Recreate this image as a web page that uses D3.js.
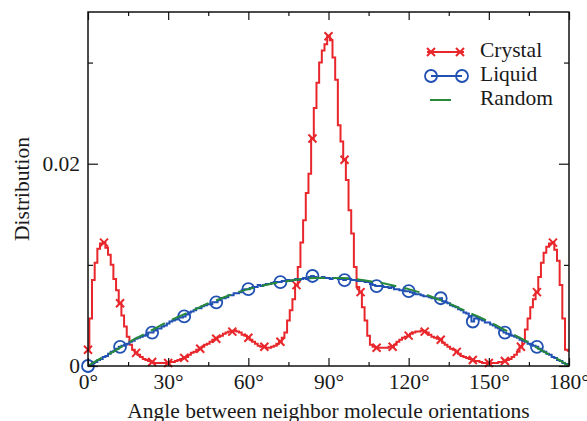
<!DOCTYPE html>
<html>
<head>
<meta charset="utf-8">
<script src="https://cdn.jsdelivr.net/npm/d3@7"></script>
<style>
  body { margin: 0; background: #fff; }
  svg text { font-family: "Liberation Serif", "Times New Roman", serif; fill: #1a1a1a; }
</style>
</head>
<body>
<div id="chart"></div>
<script>
// angle (degrees) of every histogram bin centre: 0..180
var angles = d3.range(0, 181);

// crystal distribution, one value per degree
var crystal = [
  0.0016,0.0047,0.0085,0.0102,0.0116,0.0121,0.0122,0.0117,0.0110,0.0100,
  0.0086,0.0075,0.0062,0.0050,0.0039,0.0029,0.0021,0.0016,0.0013,0.0011,
  0.0009,0.0007,0.0006,0.0005,0.0004,0.0003,0.0003,0.0003,0.0003,0.0003,
  0.0003,0.0004,0.0004,0.0005,0.0006,0.0007,0.0008,0.0009,0.0011,0.0013,
  0.0014,0.0016,0.0017,0.0019,0.0021,0.0022,0.0024,0.0026,0.0027,0.0029,
  0.0030,0.0032,0.0033,0.0034,0.0034,0.0035,0.0034,0.0033,0.0031,0.0030,
  0.0028,0.0026,0.0024,0.0022,0.0020,0.0019,0.0019,0.0018,0.0018,0.0019,
  0.0020,0.0022,0.0024,0.0028,0.0033,0.0045,0.0055,0.0066,0.0080,0.0098,
  0.0122,0.0144,0.0171,0.0190,0.0225,0.0255,0.0280,0.0300,0.0312,0.0318,
  0.0326,0.0322,0.0305,0.0283,0.0238,0.0222,0.0204,0.0184,0.0154,0.0131,
  0.0098,0.0078,0.0073,0.0058,0.0045,0.0030,0.0021,0.0019,0.0018,0.0018,
  0.0018,0.0018,0.0018,0.0019,0.0019,0.0021,0.0024,0.0026,0.0028,0.0029,
  0.0030,0.0032,0.0033,0.0034,0.0034,0.0035,0.0034,0.0033,0.0031,0.0029,
  0.0028,0.0027,0.0026,0.0023,0.0021,0.0019,0.0017,0.0016,0.0014,0.0012,
  0.0010,0.0009,0.0008,0.0007,0.0006,0.0005,0.0005,0.0004,0.0003,0.0003,
  0.0003,0.0003,0.0003,0.0003,0.0004,0.0004,0.0005,0.0006,0.0007,0.0009,
  0.0011,0.0014,0.0019,0.0025,0.0036,0.0047,0.0058,0.0066,0.0073,0.0088,
  0.0102,0.0112,0.0118,0.0121,0.0122,0.0115,0.0104,0.0080,0.0047,0.0016,
  0.0015
];

// liquid distribution, one value per degree
var liquid = [
  0.0000,0.0001,0.0003,0.0004,0.0006,0.0007,0.0009,0.0010,0.0012,0.0014,
  0.0015,0.0017,0.0019,0.0020,0.0021,0.0022,0.0024,0.0025,0.0027,0.0028,
  0.0029,0.0030,0.0031,0.0033,0.0033,0.0035,0.0037,0.0037,0.0039,0.0040,
  0.0042,0.0044,0.0045,0.0046,0.0048,0.0048,0.0049,0.0051,0.0053,0.0054,
  0.0055,0.0057,0.0057,0.0059,0.0060,0.0061,0.0061,0.0063,0.0063,0.0065,
  0.0067,0.0067,0.0068,0.0070,0.0070,0.0072,0.0072,0.0073,0.0075,0.0076,
  0.0076,0.0077,0.0078,0.0078,0.0080,0.0079,0.0080,0.0081,0.0081,0.0082,
  0.0083,0.0083,0.0083,0.0084,0.0084,0.0085,0.0084,0.0085,0.0086,0.0085,
  0.0086,0.0087,0.0086,0.0088,0.0089,0.0088,0.0087,0.0087,0.0088,0.0087,
  0.0087,0.0086,0.0087,0.0087,0.0086,0.0086,0.0085,0.0086,0.0086,0.0085,
  0.0085,0.0084,0.0084,0.0084,0.0083,0.0083,0.0081,0.0080,0.0079,0.0079,
  0.0079,0.0078,0.0078,0.0077,0.0078,0.0076,0.0076,0.0075,0.0075,0.0074,
  0.0074,0.0073,0.0072,0.0071,0.0071,0.0070,0.0069,0.0069,0.0068,0.0067,
  0.0067,0.0066,0.0067,0.0064,0.0063,0.0062,0.0060,0.0059,0.0058,0.0056,
  0.0055,0.0053,0.0052,0.0049,0.0044,0.0047,0.0048,0.0046,0.0045,0.0043,
  0.0043,0.0041,0.0040,0.0038,0.0037,0.0035,0.0033,0.0032,0.0031,0.0030,
  0.0029,0.0028,0.0026,0.0025,0.0024,0.0022,0.0021,0.0020,0.0019,0.0017,
  0.0015,0.0014,0.0012,0.0011,0.0009,0.0008,0.0006,0.0005,0.0003,0.0002,
  0.0000
];

// random orientation curve, sampled every 5 degrees
var randomAngles = d3.range(0, 181, 5);
var random = [
  0.0000,0.0008,0.0015,0.0023,0.0030,0.0037,0.0044,0.0050,0.0056,0.0062,
  0.0067,0.0072,0.0076,0.0079,0.0082,0.0084,0.0086,0.0087,0.0087,0.0087,
  0.0086,0.0084,0.0082,0.0079,0.0076,0.0072,0.0067,0.0062,0.0056,0.0050,
  0.0044,0.0037,0.0030,0.0023,0.0015,0.0008,0.0000
];

var xMajor = [0, 30, 60, 90, 120, 150, 180],
    xMinor = [15, 45, 75, 105, 135, 165],
    yMajor = [0, 0.02],
    yMinor = [0.01, 0.03];

var legendNames = ["Crystal", "Liquid", "Random"];

var red = "#e8262b", blue = "#2151b2", green = "#27893a";
var fontSize = "21.5px";

var width = 587, height = 421,
    margin = {top: 12, right: 18, bottom: 55, left: 88};

var svg = d3.select("#chart").append("svg")
  .attr("width", width)
  .attr("height", height);

var x = d3.scaleLinear().domain([0, 180]).range([margin.left, width - margin.right]);
var y = d3.scaleLinear().domain([0, 0.035]).range([height - margin.bottom, margin.top]);

var crystalData = angles.map(function(a, i){ return {a: a, v: crystal[i]}; });
var liquidData = angles.map(function(a, i){ return {a: a, v: liquid[i]}; });
var randomData = randomAngles.map(function(a, i){ return {a: a, v: random[i]}; });

var step = d3.line()
  .curve(d3.curveStep)
  .x(function(d){ return x(d.a); })
  .y(function(d){ return y(d.v); });

var smooth = d3.line()
  .curve(d3.curveMonotoneX)
  .x(function(d){ return x(d.a); })
  .y(function(d){ return y(d.v); });

var xMark = "M-4,-4L4,4M-4,4L4,-4";

// crystal
svg.append("path")
  .datum(crystalData)
  .attr("d", step)
  .style("fill", "none")
  .style("stroke", red)
  .style("stroke-width", 2);

svg.selectAll(".xm")
  .data(crystalData.filter(function(d){ return d.a % 6 === 0 && d.a < 180; }))
  .enter().append("path")
  .attr("class", "xm")
  .attr("d", xMark)
  .attr("transform", function(d){ return "translate(" + x(d.a) + "," + y(d.v) + ")"; })
  .style("fill", "none")
  .style("stroke", red)
  .style("stroke-width", 2);

// liquid
svg.append("path")
  .datum(liquidData)
  .attr("d", step)
  .style("fill", "none")
  .style("stroke", blue)
  .style("stroke-width", 2);

svg.selectAll(".cm")
  .data(liquidData.filter(function(d){ return d.a % 12 === 0 && d.a < 180; }))
  .enter().append("circle")
  .attr("class", "cm")
  .attr("cx", function(d){ return x(d.a); })
  .attr("cy", function(d){ return y(d.v); })
  .attr("r", 6)
  .style("fill", "none")
  .style("stroke", blue)
  .style("stroke-width", 1.8);

// random
svg.append("path")
  .datum(randomData)
  .attr("d", smooth)
  .style("fill", "none")
  .style("stroke", green)
  .style("stroke-width", 2)
  .style("stroke-dasharray", "16,8");

// axes: ticks pointing inward on all four sides
function styleAxis(g) {
  g.select(".domain").remove();
  g.selectAll("line").style("stroke", "#111").style("stroke-width", 1.2);
  g.selectAll("text").style("font-size", fontSize).style("fill", "#1a1a1a")
    .style("font-family", "'Liberation Serif', 'Times New Roman', serif");
}

var bottomY = y(0), topY = y(0.035), leftX = x(0), rightX = x(180);

svg.append("g").attr("transform", "translate(0," + bottomY + ")")
  .call(d3.axisBottom(x).tickValues(xMajor).tickSize(-8).tickPadding(0)
    .tickFormat(function(d){ return d + "°"; }))
  .call(styleAxis)
  .call(function(g){ g.selectAll("text").attr("dy", null).attr("y", 23); });
svg.append("g").attr("transform", "translate(0," + bottomY + ")")
  .call(d3.axisBottom(x).tickValues(xMinor).tickSize(-4).tickFormat(""))
  .call(styleAxis);
svg.append("g").attr("transform", "translate(0," + topY + ")")
  .call(d3.axisTop(x).tickValues(xMajor).tickSize(-8).tickFormat(""))
  .call(styleAxis);
svg.append("g").attr("transform", "translate(0," + topY + ")")
  .call(d3.axisTop(x).tickValues(xMinor).tickSize(-4).tickFormat(""))
  .call(styleAxis);

svg.append("g").attr("transform", "translate(" + leftX + ",0)")
  .call(d3.axisLeft(y).tickValues(yMajor).tickSize(-10).tickPadding(8)
    .tickFormat(function(d){ return d === 0 ? "0" : d3.format(".2f")(d); }))
  .call(styleAxis);
svg.append("g").attr("transform", "translate(" + leftX + ",0)")
  .call(d3.axisLeft(y).tickValues(yMinor).tickSize(-5).tickFormat(""))
  .call(styleAxis);
svg.append("g").attr("transform", "translate(" + rightX + ",0)")
  .call(d3.axisRight(y).tickValues(yMajor).tickSize(-10).tickFormat(""))
  .call(styleAxis);
svg.append("g").attr("transform", "translate(" + rightX + ",0)")
  .call(d3.axisRight(y).tickValues(yMinor).tickSize(-5).tickFormat(""))
  .call(styleAxis);

// frame
svg.append("rect")
  .attr("x", leftX).attr("y", topY)
  .attr("width", rightX - leftX).attr("height", bottomY - topY)
  .style("fill", "none").style("stroke", "#111").style("stroke-width", 1.5);

// axis titles
svg.append("text")
  .attr("x", (leftX + rightX) / 2)
  .attr("y", 418)
  .attr("text-anchor", "middle")
  .style("font-size", fontSize)
  .text("Angle between neighbor molecule orientations");

svg.append("text")
  .attr("transform", "translate(29," + (topY + bottomY) / 2 + ") rotate(-90)")
  .attr("text-anchor", "middle")
  .style("font-size", fontSize)
  .text("Distribution");

// legend
var legend = svg.append("g");
var rows = legend.selectAll("g")
  .data(legendNames)
  .enter().append("g")
  .attr("transform", function(d, i){ return "translate(0," + (52 + i * 24) + ")"; });

rows.append("text")
  .attr("x", 480)
  .attr("y", 5)
  .style("font-size", fontSize)
  .text(function(d){ return d; });

rows.filter(function(d){ return d === "Crystal"; }).each(function(){
  var g = d3.select(this);
  g.append("line").attr("x1", 427).attr("x2", 464).attr("y1", 0).attr("y2", 0)
    .style("stroke", red).style("stroke-width", 2);
  [431, 460].forEach(function(px){
    g.append("path").attr("d", xMark).attr("transform", "translate(" + px + ",0)")
      .style("fill", "none").style("stroke", red).style("stroke-width", 2);
  });
});
rows.filter(function(d){ return d === "Liquid"; }).each(function(){
  var g = d3.select(this);
  g.append("line").attr("x1", 431).attr("x2", 462).attr("y1", 0).attr("y2", 0)
    .style("stroke", blue).style("stroke-width", 2);
  [431, 462].forEach(function(px){
    g.append("circle").attr("cx", px).attr("cy", 0).attr("r", 6)
      .style("fill", "none").style("stroke", blue).style("stroke-width", 1.8);
  });
});
rows.filter(function(d){ return d === "Random"; }).each(function(){
  d3.select(this).append("line").attr("x1", 430).attr("x2", 451).attr("y1", 0).attr("y2", 0)
    .style("stroke", green).style("stroke-width", 2);
});
</script>
</body>
</html>
